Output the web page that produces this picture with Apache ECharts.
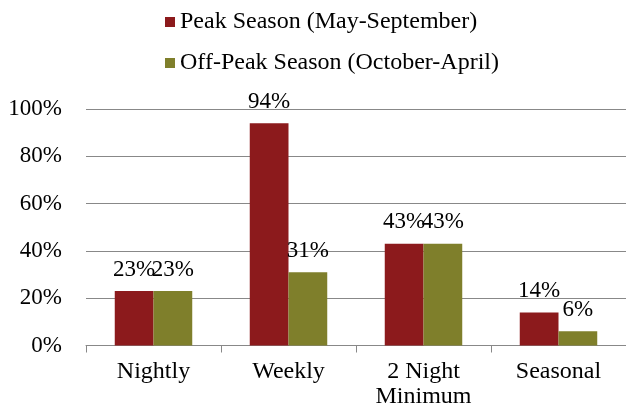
<!DOCTYPE html>
<html><head><meta charset="utf-8">
<script src="https://cdn.jsdelivr.net/npm/echarts@6/dist/echarts.min.js"></script>
<style>html,body{margin:0;padding:0;background:#fff}#c{width:626px;height:411px}</style>
</head><body><div id="c"></div>
<script>
var categories = ["Nightly", "Weekly", "2 Night\nMinimum", "Seasonal"];
var peakName = "Peak Season (May-September)";
var offName = "Off-Peak Season (October-April)";
var peakValues = [23, 94, 43, 14];
var offValues = [23, 31, 43, 6];
var yTicks = [0, 20, 40, 60, 80, 100];

var font = "'Liberation Serif', 'Times New Roman', serif";
var chart = echarts.init(document.getElementById('c'), null, {renderer: 'canvas'});
var lbl = {show: true, position: 'top', distance: 10, formatter: '{c}%', color: '#000', fontFamily: font, fontSize: 23};
chart.setOption({
  animation: false,
  backgroundColor: '#fff',
  textStyle: {fontFamily: font},
  legend: {
    orient: 'vertical', left: 160, top: 5, itemGap: 17,
    itemWidth: 10, itemHeight: 10, icon: 'rect',
    textStyle: {fontFamily: font, fontSize: 24, color: '#000'},
    data: [peakName, offName]
  },
  grid: {left: 86, right: -4, top: 109, bottom: 65.5, containLabel: false},
  xAxis: {
    type: 'category', data: categories,
    axisLine: {lineStyle: {color: '#888', width: 1}},
    axisTick: {show: true, length: 7, lineStyle: {color: '#888'}},
    axisLabel: {color: '#000', fontFamily: font, fontSize: 24, margin: 14, lineHeight: 25, interval: 0}
  },
  yAxis: {
    type: 'value', min: yTicks[0], max: yTicks[yTicks.length - 1], interval: 20,
    axisLine: {show: false}, axisTick: {show: false},
    splitLine: {lineStyle: {color: '#888', width: 1}},
    axisLabel: {formatter: '{value}%', color: '#000', fontFamily: font, fontSize: 23, margin: 24}
  },
  series: [
    {name: peakName, type: 'bar', data: peakValues, barGap: '0%', barCategoryGap: '42.6%',
     itemStyle: {color: '#8c1a1c'}, label: lbl},
    {name: offName, type: 'bar', data: offValues,
     itemStyle: {color: '#7f7f2b'}, label: lbl}
  ]
});
</script></body></html>
